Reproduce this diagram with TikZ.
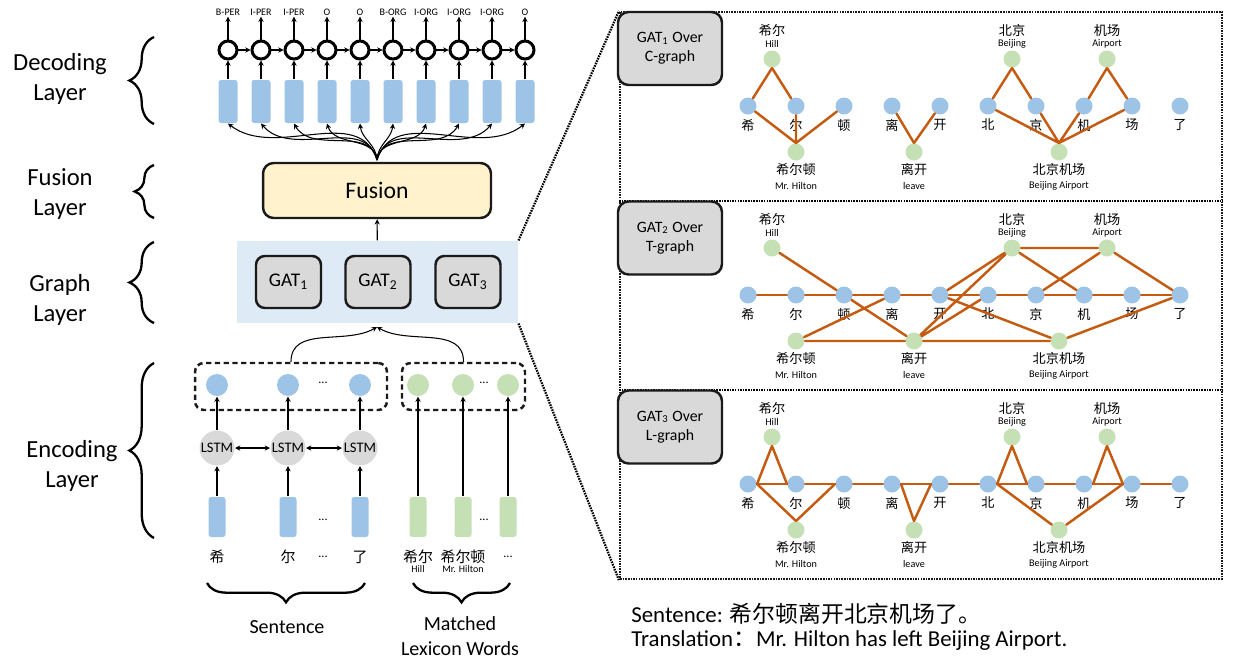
\documentclass[tikz,border=0pt]{standalone}
\usepackage{fontspec}
\setmainfont{Carlito}
\newfontfamily\cjk{Noto Sans CJK SC}
\usepackage{tikz}
\usetikzlibrary{arrows.meta,positioning,decorations.pathreplacing}
\definecolor{barblue}{HTML}{9DC3E6}
\definecolor{wordgreen}{HTML}{C5E0B4}
\definecolor{fusefill}{HTML}{FFF2CC}
\definecolor{gatgray}{HTML}{D9D9D9}
\definecolor{laybg}{HTML}{DEEBF7}
\definecolor{edgeor}{HTML}{C55A11}
\definecolor{ink}{HTML}{1A1A1A}
% nodes of one graph panel: #1 name prefix, #2 top of the panel
\newcommand{\panelnodes}[2]{%
  \foreach \ch [count=\k from 0] in {希,尔,顿,离,开,北,京,机,场,了} {
    \node[cnode] (#1c\k) at ({748+48*\k},{-#2-94}) {};
    \node[gch] (#1t\k) at ({748+48*\k},{-#2-113}) {\ch};
  }
  \node[wnode] (#1hill) at (772,{-#2-47}) {};
  \node[wnode] (#1bj)   at (1012,{-#2-47}) {};
  \node[wnode] (#1ap)   at (1107,{-#2-47}) {};
  \node[wnode] (#1hsd)  at (796,{-#2-140}) {};
  \node[wnode] (#1lk)   at (914,{-#2-140}) {};
  \node[wnode] (#1bjap) at (1059,{-#2-140}) {};
  \node[gch] (#1hillz)  at (772,{-#2-18}) {希尔};
  \node[gen] (#1hille)  at (772,{-#2-32}) {Hill};
  \node[gch] (#1bjz)    at (1012,{-#2-18}) {北京};
  \node[gen] (#1bje)    at (1012,{-#2-32}) {Beijing};
  \node[gch] (#1apz)    at (1107,{-#2-18}) {机场};
  \node[gen] (#1ape)    at (1107,{-#2-32}) {Airport};
  \node[gch] (#1hsdz)   at (796,{-#2-157}) {希尔顿};
  \node[gen] (#1hsde)   at (796,{-#2-174}) {Mr. Hilton};
  \node[gch] (#1lkz)    at (914,{-#2-157}) {离开};
  \node[gen] (#1lke)    at (914,{-#2-174}) {leave};
  \node[gch] (#1bjapz)  at (1059,{-#2-157}) {北京机场};
  \node[gen] (#1bjape)  at (1059,{-#2-174}) {Beijing Airport};}

\begin{document}
\begin{tikzpicture}[
  x=0.02cm, y=0.02cm, line width=0.6pt,
  >={Stealth[length=3pt,width=3pt]},
  lyr/.style={font=\fontsize{14}{17}\selectfont, align=center},
  lyrs/.style={font=\fontsize{11.4}{14}\selectfont, align=center},
  brc/.style={decorate, decoration={brace, amplitude=#1}, line width=1.3pt},
  dbar/.style={fill=barblue, rounded corners=1.5pt, minimum width=0.38cm, minimum height=0.86cm, inner sep=0},
  dcirc/.style={circle, draw=black, line width=1.7pt, minimum size=0.36cm, inner sep=0},
  tag/.style={font=\fontsize{5.7}{7}\selectfont, inner sep=0.5pt},
  fusebox/.style={draw=ink, line width=1.4pt, fill=fusefill, rounded corners=6pt,
    minimum width=4.56cm, minimum height=1.1cm, font=\fontsize{13.5}{16}\selectfont},
  glaybox/.style={fill=laybg, minimum width=5.62cm, minimum height=1.64cm, inner sep=0},
  gatbox/.style={draw=ink, line width=1.4pt, fill=gatgray, rounded corners=5pt,
    minimum width=1.3cm, minimum height=1.04cm, font=\fontsize{11}{13}\selectfont},
  sbox/.style={draw=ink, line width=1.4pt, dash pattern=on 3pt off 2pt, rounded corners=5pt,
    minimum height=0.94cm, inner sep=0},
  hnode/.style={circle, fill=barblue, minimum size=0.44cm, inner sep=0},
  wcirc/.style={circle, fill=wordgreen, minimum size=0.44cm, inner sep=0},
  lstm/.style={circle, fill=gatgray, minimum size=0.7cm, inner sep=0, font=\fontsize{8.3}{10}\selectfont},
  ebar/.style={fill=barblue, rounded corners=1.5pt, minimum width=0.34cm, minimum height=0.8cm, inner sep=0},
  gbar/.style={ebar, fill=wordgreen},
  ech/.style={font=\cjk\fontsize{8.5}{10}\selectfont, inner sep=0},
  een/.style={font=\fontsize{5.7}{7}\selectfont, inner sep=0},
  ellip/.style={font=\fontsize{7}{8}\selectfont, inner sep=0},
  dotline/.style={line width=1.3pt, dash pattern=on 0.9pt off 0.6pt},
  panframe/.style={dotline, draw=ink, minimum width=12.04cm, minimum height=11.34cm, inner sep=0},
  panlab/.style={draw=ink, line width=1.4pt, fill=gatgray, rounded corners=6pt, align=center,
    minimum width=2.08cm, minimum height=1.46cm, font=\fontsize{9}{11}\selectfont},
  cnode/.style={circle, fill=barblue, minimum size=0.34cm, inner sep=0},
  wnode/.style={circle, fill=wordgreen, minimum size=0.34cm, inner sep=0},
  gch/.style={font=\cjk\fontsize{7.5}{9}\selectfont, inner sep=0},
  gen/.style={font=\fontsize{5.8}{7}\selectfont, inner sep=0},
  gedge/.style={draw=edgeor, line width=1.4pt, line join=round, line cap=round},
]
\useasboundingbox (0,0) rectangle (1237,-664);

% ===== layer names + braces =====
\node[lyr] (decl) at (60,-79) {Decoding\\Layer};
\draw[brc=14pt] (154,-124) -- (154,-37);
\node[lyr] (fusl) at (60,-194) {Fusion\\Layer};
\draw[brc=11pt] (154,-218) -- (154,-165);
\node[lyr] (grpl) at (60,-300) {Graph\\Layer};
\draw[brc=14pt] (154,-323) -- (154,-242);
\node[lyr] (encl) at (72,-466) {Encoding\\Layer};
\draw[brc=14pt] (154,-538) -- (154,-363);

% ===== decoding layer =====
\foreach \lab [count=\i from 0] in {B-PER,I-PER,I-PER,O,O,B-ORG,I-ORG,I-ORG,I-ORG,O} {
  \node[dbar] (db\i) at ({228+33*\i},-101.5) {};
  \node[dcirc] (dc\i) at ({228+33*\i},-50) {};
  \node[tag] (dt\i) at ({228+33*\i},-12) {\lab};
  \draw[->] (db\i) -- (dc\i);
  \draw[->] (dc\i) -- (dt\i);
}
\foreach \i [evaluate=\i as \j using int(\i+1)] in {0,...,8}
  \draw[->] (dc\i) -- (dc\j);

% ===== fusion layer =====
\node[fusebox] (fuse) at (377,-190.5) {Fusion};
\coordinate (fan) at (377,-160);
\foreach \i in {0,...,9} {
  \pgfmathsetmacro{\dx}{228+33*\i-377}
  \pgfmathsetmacro{\aout}{90-0.12*\dx}
  \pgfmathsetmacro{\ain}{-90-0.35*\dx}
  \draw[->] (fan) to[out=\aout,in=\ain] (db\i.south);
}

% ===== graph layer =====
\node[glaybox] (glay) at (377.5,-282) {};
\node[gatbox] (gat1) at (288.5,-282) {GAT\textsubscript{1}};
\node[gatbox] (gat2) at (378,-282) {GAT\textsubscript{2}};
\node[gatbox] (gat3) at (468,-282) {GAT\textsubscript{3}};
\draw[->] (glay) -- (fuse);

% ===== encoding layer =====
\node[sbox, minimum width=3.84cm] (sbx) at (291,-386.5) {};
\node[sbox, minimum width=2.46cm] (lbx) at (463.5,-386.5) {};
\coordinate (merge) at (377,-327);
\draw[->] (sbx.north) to[out=90,in=-150] (merge);
\draw[->] (lbx.north) to[out=90,in=-30] (merge);
\foreach \x [count=\i from 0] in {217,288,360} {
  \node[hnode] (h\i) at (\x,-385) {};
  \node[lstm] (l\i) at (\x,-448) {LSTM};
  \node[ebar] (e\i) at (\x,-517) {};
  \draw[->] (e\i) -- (l\i);
  \draw[->] (l\i) -- (h\i);
}
\draw[<->] (l0) -- (l1);
\draw[<->] (l1) -- (l2);
\foreach \x [count=\i from 0] in {418,463,508} {
  \node[wcirc] (w\i) at (\x,-385) {};
  \node[gbar] (g\i) at (\x,-517) {};
  \draw[->] (g\i) -- (w\i);
}
\node[ech] (ec0) at (217,-557) {希};
\node[ech] (ec1) at (288,-557) {尔};
\node[ech] (ec2) at (360,-557) {了};
\node[ech] (wc0) at (418,-557) {希尔};
\node[een] (we0) at (418,-569) {Hill};
\node[ech] (wc1) at (463,-557) {希尔顿};
\node[een] (we1) at (463,-569) {Mr. Hilton};
\node[ellip] (dA) at (323,-383) {...};
\node[ellip] (dB) at (484,-383) {...};
\node[ellip] (dC) at (323,-520) {...};
\node[ellip] (dD) at (484,-520) {...};
\node[ellip] (dE) at (323,-557) {...};
\node[ellip] (dF) at (508,-557) {...};
\draw[brc=11pt] (365,-583) -- (207,-583);
\draw[brc=11pt] (510,-583) -- (413,-583);
\node[lyrs] (sentl) at (287,-627) {Sentence};
\node[lyrs] (lexl) at (460,-636) {Matched\\Lexicon Words};

% ===== graph panels =====
\node[panframe] (pan) at (921,-295.5) {};
\draw[dotline] (pan.west |- 0,-201) -- (pan.east |- 0,-201);
\draw[dotline] (pan.west |- 0,-390) -- (pan.east |- 0,-390);
\draw[dotline] (glay.north east) -- (pan.north west);
\draw[dotline] (glay.south east) -- (pan.south west);
\node[panlab] (lab1) at (670,-48.5) {GAT\textsubscript{1} Over\\C-graph};
\node[panlab] (lab2) at (670,-238) {GAT\textsubscript{2} Over\\T-graph};
\node[panlab] (lab3) at (670,-427) {GAT\textsubscript{3} Over\\L-graph};
\panelnodes{A}{12}
\panelnodes{B}{201}
\panelnodes{C}{390}

% C-graph: words to the chars they hold
\draw[gedge] (Ahill.south) -- (Ac0) (Ahill.south) -- (Ac1);
\draw[gedge] (Ac0) -- (Ahsd.north) (Ac1) -- (Ahsd.north) (Ac2) -- (Ahsd.north);
\draw[gedge] (Ac3) -- (Alk.north) (Ac4) -- (Alk.north);
\draw[gedge] (Abj.south) -- (Ac5) (Abj.south) -- (Ac6);
\draw[gedge] (Aap.south) -- (Ac7) (Aap.south) -- (Ac8);
\draw[gedge] (Ac5) -- (Abjap.north) (Ac6) -- (Abjap.north)
  (Ac7) -- (Abjap.north) (Ac8) -- (Abjap.north);

% T-graph: chain + nearest contexts
\foreach \i [evaluate=\i as \j using int(\i+1)] in {0,...,8}
  \draw[gedge] (Bc\i) -- (Bc\j);
\draw[gedge] (Bhill) -- (Bc2);
\draw[gedge] (Bhsd) -- (Bc3) (Bhsd) -- (Blk);
\draw[gedge] (Bc2) -- (Blk) (Blk) -- (Bc5) (Blk) -- (Bbj) (Blk) -- (Bbjap);
\draw[gedge] (Bc4) -- (Bbj) (Bc4) -- (Bbjap);
\draw[gedge] (Bbj) -- (Bc7) (Bbj) -- (Bap);
\draw[gedge] (Bap) -- (Bc6) (Bap) -- (Bc9);
\draw[gedge] (Bbjap) -- (Bc9);

% L-graph: chain + first/last chars
\foreach \i [evaluate=\i as \j using int(\i+1)] in {0,...,8}
  \draw[gedge] (Cc\i.east) -- (Cc\j.west);
\draw[gedge] (Cc0.east) -- (Chill.south) -- (Cc1.west);
\draw[gedge] (Cc0.east) -- (Chsd.north) -- (Cc2.west);
\draw[gedge] (Cc3.east) -- (Clk.north) -- (Cc4.west);
\draw[gedge] (Cc5.east) -- (Cbj.south) -- (Cc6.west);
\draw[gedge] (Cc7.east) -- (Cap.south) -- (Cc8.west);
\draw[gedge] (Cc5.east) -- (Cbjap) (Cbjap) -- (Cc8.west);

% ===== example sentence =====
\node[anchor=west, font=\fontsize{13}{15}\selectfont] (sent) at (625,-614)
  {Sentence: {\cjk 希尔顿离开北京机场了。}};
\node[anchor=west, font=\fontsize{13}{15}\selectfont] (trans) at (625,-641)
  {Translation{\cjk ：}Mr. Hilton has left Beijing Airport.};
\end{tikzpicture}
\end{document}
